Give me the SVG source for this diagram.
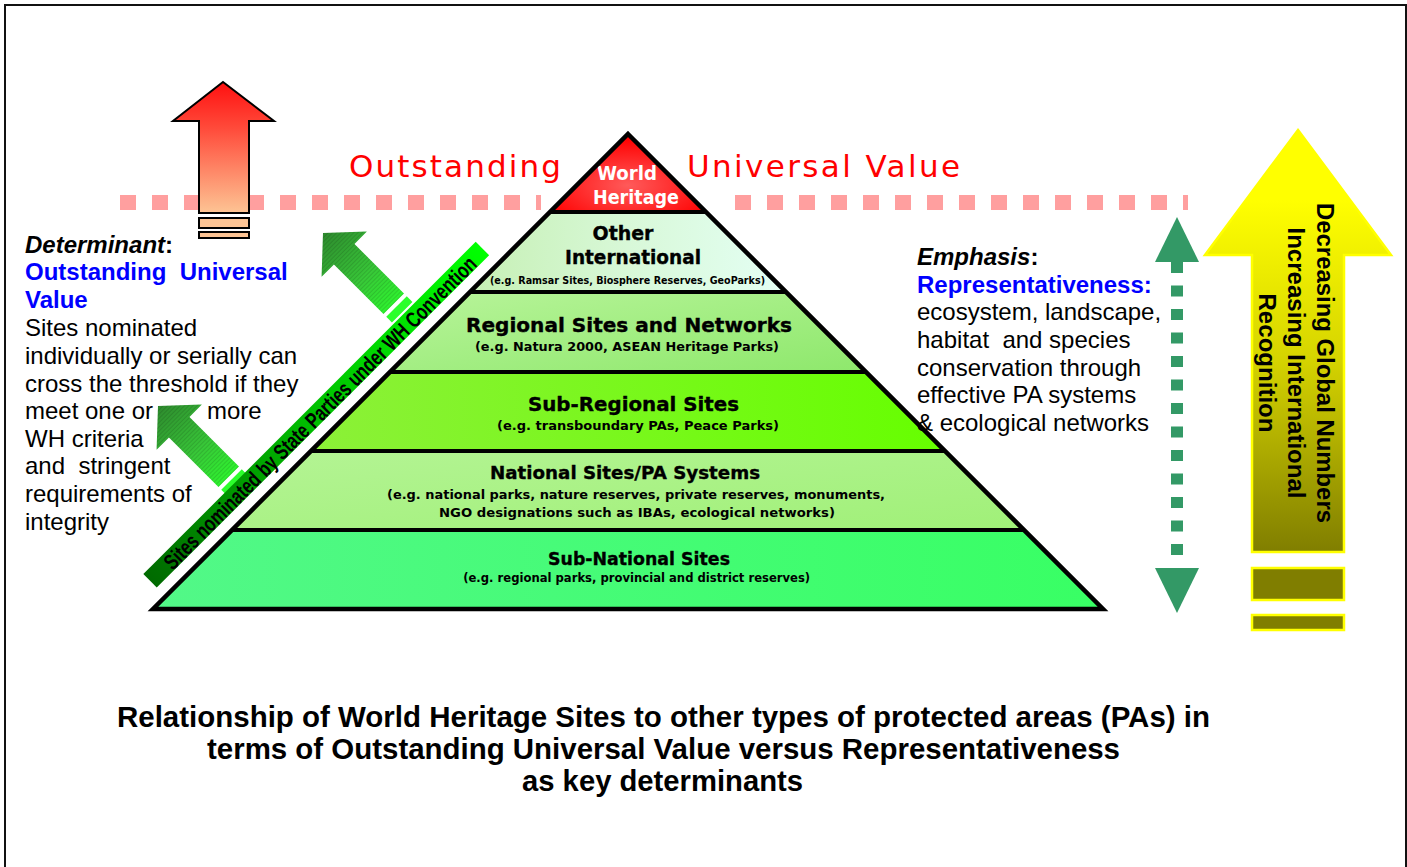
<svg xmlns="http://www.w3.org/2000/svg" width="1407" height="867" viewBox="0 0 1407 867">
<style>
.sans{font-family:"Liberation Sans",Arial,sans-serif}
.body{font-family:"Liberation Sans",Arial,sans-serif;font-size:24px;fill:#000}
.blue{fill:#0000ff;font-weight:bold}
.pt{font-family:"DejaVu Sans","Liberation Sans",sans-serif;font-weight:bold;fill:#000;text-anchor:middle}
.hv{stroke:#000;stroke-width:0.35}
.sep{stroke:#000;stroke-width:4}
.cap{font-family:"Liberation Sans",Arial,sans-serif;font-size:29px;font-weight:bold;text-anchor:middle;fill:#000}
.vt{font-family:"Liberation Sans",Arial,sans-serif;font-size:23px;font-weight:bold;text-anchor:middle;fill:#000}
</style>
<defs>
<radialGradient id="gWH" cx="50%" cy="65%" r="60%"><stop offset="0" stop-color="#ff5a5a"/><stop offset="1" stop-color="#ff0000"/></radialGradient>
<linearGradient id="gOther" x1="0" y1="0" x2="1" y2="0"><stop offset="0" stop-color="#c6f0b4"/><stop offset="0.5" stop-color="#d8f8d8"/><stop offset="1" stop-color="#e4fff4"/></linearGradient>
<linearGradient id="gReg" x1="0" y1="0" x2="1" y2="1"><stop offset="0" stop-color="#b8f49a"/><stop offset="1" stop-color="#8ee86c"/></linearGradient>
<linearGradient id="gSubReg" x1="0" y1="0" x2="1" y2="0"><stop offset="0" stop-color="#8cf038"/><stop offset="1" stop-color="#66ff00"/></linearGradient>
<linearGradient id="gNat" x1="0" y1="0" x2="1" y2="1"><stop offset="0" stop-color="#b4f494"/><stop offset="1" stop-color="#a0f078"/></linearGradient>
<linearGradient id="gSubNat" x1="0" y1="0" x2="1" y2="0"><stop offset="0" stop-color="#52f888"/><stop offset="1" stop-color="#38ff64"/></linearGradient>
<linearGradient id="gRed" gradientUnits="userSpaceOnUse" x1="0" y1="82" x2="0" y2="213"><stop offset="0" stop-color="#ff1010"/><stop offset="0.35" stop-color="#ff4a3a"/><stop offset="1" stop-color="#fdc494"/></linearGradient>
<linearGradient id="gYel" gradientUnits="userSpaceOnUse" x1="0" y1="200" x2="0" y2="552"><stop offset="0" stop-color="#ffff00"/><stop offset="0.45" stop-color="#d6d400"/><stop offset="1" stop-color="#807e00"/></linearGradient>
<linearGradient id="gGreenArr" gradientUnits="userSpaceOnUse" x1="0" y1="0" x2="0" y2="112"><stop offset="0" stop-color="#2e8a2e"/><stop offset="0.55" stop-color="#38c838"/><stop offset="1" stop-color="#2cff2c"/></linearGradient>
<linearGradient id="gBand" gradientUnits="userSpaceOnUse" x1="-236" y1="0" x2="234" y2="0"><stop offset="0" stop-color="#006a00"/><stop offset="0.5" stop-color="#00c000"/><stop offset="1" stop-color="#00ff00"/></linearGradient>
<pattern id="hatch" width="3" height="3" patternUnits="userSpaceOnUse"><rect width="3" height="1" fill="#000" opacity="0.12"/></pattern>
</defs>

<rect id="border" x="5" y="5" width="1401" height="900" fill="#fff" stroke="#111" stroke-width="2"/>

<g id="threshold">
<line x1="120" y1="202.5" x2="541" y2="202.5" stroke="#ff9f9f" stroke-width="15" stroke-dasharray="16 16"/>
<line x1="735" y1="202.5" x2="1188" y2="202.5" stroke="#ff9f9f" stroke-width="15" stroke-dasharray="16 16"/>
<text x="349" y="177" font-size="31" fill="#ff0000" textLength="212" lengthAdjust="spacing" style="font-family:'DejaVu Sans',sans-serif">Outstanding</text>
<text x="687" y="177" font-size="31" fill="#ff0000" textLength="273" lengthAdjust="spacing" style="font-family:'DejaVu Sans',sans-serif">Universal Value</text>
</g>

<g id="pyramid">
<g id="layer-world-heritage">
<polygon points="628,134 707,213 549,213" fill="url(#gWH)"/>
<text class="pt" x="627" y="180" font-size="19" style="fill:#fff" textLength="60" lengthAdjust="spacingAndGlyphs">World</text>
<text class="pt" x="636" y="204" font-size="19" style="fill:#fff" textLength="86" lengthAdjust="spacingAndGlyphs">Heritage</text>
</g>
<g id="layer-other-international">
<polygon points="549,213 707,213 786,292 470,292" fill="url(#gOther)"/>
<text class="pt hv" x="623" y="240" font-size="19" textLength="61" lengthAdjust="spacingAndGlyphs">Other</text>
<text class="pt hv" x="633" y="264" font-size="19" textLength="136" lengthAdjust="spacingAndGlyphs">International</text>
<text class="pt" x="627.5" y="284" font-size="10" textLength="275" lengthAdjust="spacingAndGlyphs">(e.g. Ramsar Sites, Biosphere Reserves, GeoParks)</text>
</g>
<g id="layer-regional">
<polygon points="470,292 786,292 866,372 390,372" fill="url(#gReg)"/>
<text class="pt hv" x="629" y="332" font-size="19" textLength="326" lengthAdjust="spacingAndGlyphs">Regional Sites and Networks</text>
<text class="pt" x="627" y="351" font-size="13" textLength="304" lengthAdjust="spacingAndGlyphs">(e.g. Natura 2000, ASEAN Heritage Parks)</text>
</g>
<g id="layer-sub-regional">
<polygon points="390,372 866,372 945,451 311,451" fill="url(#gSubReg)"/>
<text class="pt hv" x="633.5" y="411" font-size="19" textLength="211" lengthAdjust="spacingAndGlyphs">Sub-Regional Sites</text>
<text class="pt" x="638" y="430" font-size="13" textLength="282" lengthAdjust="spacingAndGlyphs">(e.g. transboundary PAs, Peace Parks)</text>
</g>
<g id="layer-national">
<polygon points="311,451 945,451 1024,530 232,530" fill="url(#gNat)"/>
<text class="pt hv" x="625" y="479" font-size="18" textLength="270" lengthAdjust="spacingAndGlyphs">National Sites/PA Systems</text>
<text class="pt" x="636" y="499" font-size="13" textLength="498" lengthAdjust="spacingAndGlyphs">(e.g. national parks, nature reserves, private reserves, monuments,</text>
<text class="pt" x="637" y="517" font-size="13" textLength="396" lengthAdjust="spacingAndGlyphs">NGO designations such as IBAs, ecological networks)</text>
</g>
<g id="layer-sub-national">
<polygon points="232,530 1024,530 1103,609 153,609" fill="url(#gSubNat)"/>
<text class="pt hv" x="639" y="565" font-size="18" textLength="182" lengthAdjust="spacingAndGlyphs">Sub-National Sites</text>
<text class="pt" x="636.7" y="582" font-size="12" textLength="347" lengthAdjust="spacingAndGlyphs">(e.g. regional parks, provincial and district reserves)</text>
</g>
<line class="sep" x1="549" y1="212" x2="707" y2="212"/>
<line class="sep" x1="470" y1="292" x2="786" y2="292"/>
<line class="sep" x1="390" y1="372" x2="866" y2="372"/>
<line class="sep" x1="311" y1="451" x2="945" y2="451"/>
<line class="sep" x1="232" y1="530" x2="1024" y2="530"/>
<polygon points="628,134 1103,609 153,609" fill="none" stroke="#000" stroke-width="4.5" stroke-linejoin="miter"/>
</g>

<g id="connectors">
<g id="red-arrow" stroke="#000" stroke-width="2">
<path d="M223,82 L274,121 L249,121 L249,213 L199,213 L199,121 L173,121 Z" fill="url(#gRed)"/>
<rect x="199" y="218" width="50" height="10" fill="#fdc494"/>
<rect x="199" y="232" width="50" height="6" fill="#fdc494"/>
</g>
<g id="green-arrow-upper" transform="translate(323,233) rotate(-45)">
<path d="M0,0 L32,30 L14.5,30 L14.5,100 L-14.5,100 L-14.5,30 L-32,30 Z" fill="url(#gGreenArr)"/>
<path d="M0,0 L32,30 L14.5,30 L14.5,100 L-14.5,100 L-14.5,30 L-32,30 Z" fill="url(#hatch)"/>
<rect x="-14.5" y="104" width="29" height="8" fill="#2cff2c"/>
</g>
<g id="green-arrow-lower" transform="translate(158,406) rotate(-45)">
<path d="M0,0 L32,30 L14.5,30 L14.5,100 L-14.5,100 L-14.5,30 L-32,30 Z" fill="url(#gGreenArr)"/>
<path d="M0,0 L32,30 L14.5,30 L14.5,100 L-14.5,100 L-14.5,30 L-32,30 Z" fill="url(#hatch)"/>
<rect x="-14.5" y="104" width="29" height="8" fill="#2cff2c"/>
</g>
<g id="green-double-arrow" fill="#339966">
<polygon points="1177,217 1199,262 1155,262"/>
<line x1="1177" y1="262" x2="1177" y2="557" stroke="#339966" stroke-width="12" stroke-dasharray="11 12.5"/>
<polygon points="1155,568 1199,568 1177,613"/>
</g>
<g id="yellow-arrow" stroke="#ffff00" stroke-width="2.5">
<path d="M1298,130 L1391,255 L1344,255 L1344,552 L1252,552 L1252,255 L1205,255 Z" fill="url(#gYel)"/>
<rect x="1252" y="568" width="92" height="32" fill="#807e00"/>
<rect x="1252" y="615" width="92" height="15" fill="#807e00"/>
</g>
</g>

<g id="yellow-arrow-text">
<text class="vt" transform="translate(1317,363) rotate(90)" textLength="320" lengthAdjust="spacingAndGlyphs">Decreasing Global Numbers</text>
<text class="vt" transform="translate(1288,363) rotate(90)" textLength="271" lengthAdjust="spacingAndGlyphs">Increasing International</text>
<text class="vt" transform="translate(1259,363) rotate(90)" textLength="139" lengthAdjust="spacingAndGlyphs">Recognition</text>
</g>

<g id="nomination-band" transform="translate(318,415) rotate(-45)">
<rect x="-236" y="-11" width="470" height="19" fill="url(#gBand)"/>
<text x="3" y="7.5" class="sans" font-size="22" font-weight="bold" text-anchor="middle" textLength="432" lengthAdjust="spacingAndGlyphs">Sites nominated by State Parties under WH Convention</text>
</g>

<g id="determinant-text" class="body">
<text x="25" y="252.7"><tspan font-weight="bold" font-style="italic">Determinant</tspan><tspan font-weight="bold">:</tspan></text>
<text x="25" y="280" class="blue" xml:space="preserve">Outstanding  Universal</text>
<text x="25" y="307.7" class="blue">Value</text>
<text x="25" y="336.3">Sites nominated</text>
<text x="25" y="363.9">individually or serially can</text>
<text x="25" y="391.5">cross the threshold if they</text>
<text x="25" y="419.1">meet one or</text>
<text x="207" y="419.1">more</text>
<text x="25" y="446.7">WH criteria</text>
<text x="25" y="474.3" xml:space="preserve">and  stringent</text>
<text x="25" y="501.9">requirements of</text>
<text x="25" y="529.5">integrity</text>
</g>

<g id="emphasis-text" class="body">
<text x="917" y="265"><tspan font-weight="bold" font-style="italic">Emphasis</tspan><tspan font-weight="bold">:</tspan></text>
<text x="917" y="292.7" class="blue">Representativeness:</text>
<text x="917" y="320.3">ecosystem, landscape,</text>
<text x="917" y="347.9" xml:space="preserve">habitat  and species</text>
<text x="917" y="375.5">conservation through</text>
<text x="917" y="403.1">effective PA systems</text>
<text x="917" y="430.7">&amp; ecological networks</text>
</g>

<g id="caption">
<text class="cap" x="663.5" y="727" textLength="1093" lengthAdjust="spacingAndGlyphs">Relationship of World Heritage Sites to other types of protected areas (PAs) in</text>
<text class="cap" x="663.5" y="759" textLength="913" lengthAdjust="spacingAndGlyphs">terms of Outstanding Universal Value versus Representativeness</text>
<text class="cap" x="662.5" y="791" textLength="281" lengthAdjust="spacingAndGlyphs">as key determinants</text>
</g>
</svg>
